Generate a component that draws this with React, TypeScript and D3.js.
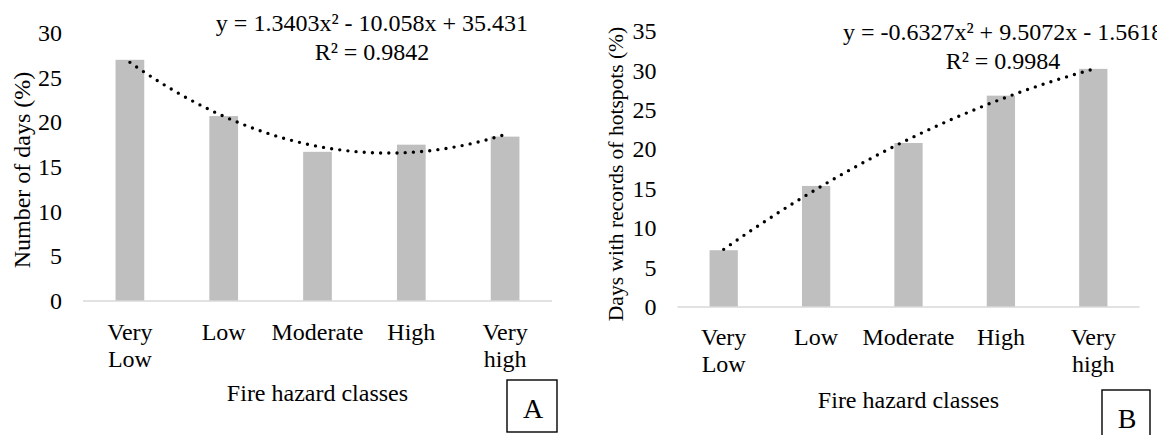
import * as d3 from 'd3';
import React from 'react';

// fire hazard classes (two-line tick labels)
const classes = [["Very", "Low"], ["Low"], ["Moderate"], ["High"], ["Very", "high"]];

// A: number of days (%)
const daysPct = [27.0, 20.7, 16.7, 17.5, 18.4];
const ticksA = [0, 5, 10, 15, 20, 25, 30];
const trendA = [1.3403, -10.058, 35.431]; // a, b, c of the polynomial trendline
const eqA = ["y = 1.3403x² - 10.058x + 35.431", "R² = 0.9842"];

// B: days with records of hotspots (%)
const hotspotPct = [7.2, 15.35, 20.8, 26.8, 30.2];
const ticksB = [0, 5, 10, 15, 20, 25, 30, 35];
const trendB = [-0.6327, 9.5072, -1.5618];
const eqB = ["y = -0.6327x² + 9.5072x - 1.5618", "R² = 0.9984"];

const FONT = "'Liberation Serif', 'Times New Roman', serif";

function Panel(props) {
  const { x0, x1, y0, y1, yMax, ticks, values, coefs, eq, eqX, eqY, yTitle, titleX, titleY, titleSize,
    xTitleY, labelY, box, letter } = props;

  const x = d3.scaleBand()
    .domain(classes.map((d, i) => String(i)))
    .range([x0, x1])
    .paddingInner(0.694)
    .paddingOuter(0.347);
  const cx = i => x(String(i)) + x.bandwidth() / 2;

  const y = d3.scaleLinear().domain([0, yMax]).range([y0, y1]);

  // trendline: x = 1..5 at the bar centres
  const xt = d3.scaleLinear().domain([1, classes.length]).range([cx(0), cx(classes.length - 1)]);
  const pts = d3.range(1, classes.length + 0.001, 0.05);
  const line = d3.line()
    .x(d => xt(d))
    .y(d => y(coefs[0] * d * d + coefs[1] * d + coefs[2]));

  return (
    <g fontFamily={FONT} fill="#000">
      {ticks.map(t => (
        <text key={t} x={x0 - 21} y={y(t)} dy="0.34em" textAnchor="end" fontSize={24}>{t}</text>
      ))}
      {values.map((v, i) => (
        <rect key={i} x={x(String(i))} y={y(v)} width={x.bandwidth()} height={y(0) - y(v)} fill="#bfbfbf" />
      ))}
      <line x1={x0} x2={x1} y1={y(0)} y2={y(0)} stroke="#d9d9d9" strokeWidth={1.5} />
      <path d={line(pts)} fill="none" stroke="#000" strokeWidth={3.4}
        strokeDasharray="0 8.2" strokeLinecap="round" />
      {classes.map((c, i) => (
        <text key={i} x={cx(i)} y={labelY} textAnchor="middle" fontSize={24}>
          {c.map((s, j) => (
            <tspan key={j} x={cx(i)} dy={j === 0 ? 0 : 26.7}>{s}</tspan>
          ))}
        </text>
      ))}
      <text x={(x0 + x1) / 2} y={xTitleY} textAnchor="middle" fontSize={24}>Fire hazard classes</text>
      <text transform={`translate(${titleX},${titleY}) rotate(-90)`} dy="0.34em" textAnchor="middle" fontSize={titleSize}>{yTitle}</text>
      <text x={eqX} y={eqY} textAnchor="middle" fontSize={24}>{eq[0]}</text>
      <text x={eqX} y={eqY + 28.5} textAnchor="middle" fontSize={24}>{eq[1]}</text>
      <rect x={box[0]} y={box[1]} width={box[2]} height={box[3]} fill="none" stroke="#000" strokeWidth={1.4} />
      <text x={box[0] + box[2] / 2 + 1} y={box[1] + 28} dy="0.34em" textAnchor="middle" fontSize={28}>{letter}</text>
    </g>
  );
}

export default function App() {
  return (
    <svg width={1157} height={435} style={{ position: 'absolute', left: 0, top: 0, background: '#fff' }}>
      <Panel x0={83} x1={552} y0={301} y1={33} yMax={30} ticks={ticksA} values={daysPct}
        coefs={trendA} eq={eqA} eqX={372} eqY={31}
        yTitle="Number of days (%)" titleX={22} titleY={170} titleSize={24}
        xTitleY={401} labelY={340}
        box={[507, 380, 50, 52]} letter="A" />
      <Panel x0={677.5} x1={1139.5} y0={307} y1={31} yMax={35} ticks={ticksB} values={hotspotPct}
        coefs={trendB} eq={eqB} eqX={1003} eqY={40}
        yTitle="Days with records of hotspots (%)" titleX={616} titleY={174} titleSize={21.5}
        xTitleY={408} labelY={345}
        box={[1102, 390, 48, 54]} letter="B" />
    </svg>
  );
}
